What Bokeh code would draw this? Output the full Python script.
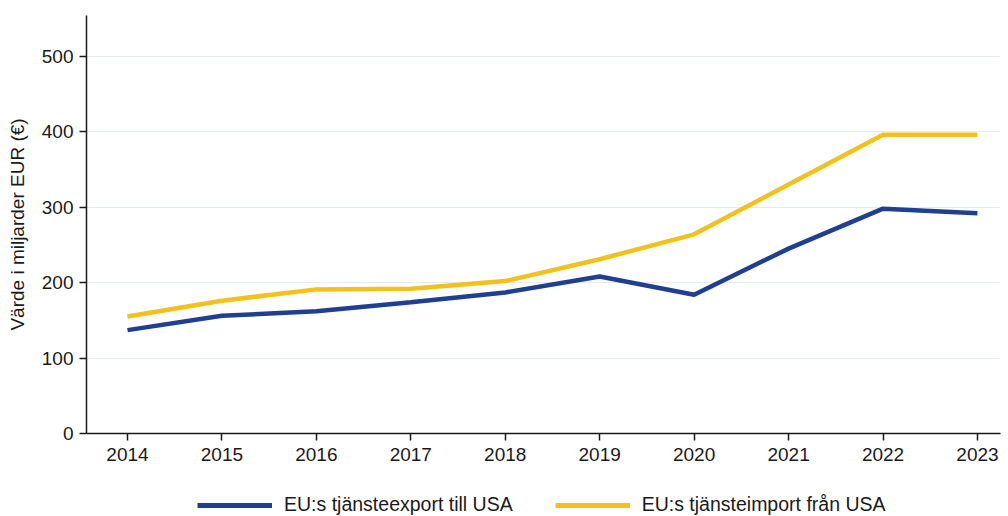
from bokeh.plotting import figure
from bokeh.models import Legend, LegendItem, Range1d, FixedTicker
from bokeh.layouts import column
from bokeh.embed import file_html
from bokeh.resources import INLINE

years = [2014, 2015, 2016, 2017, 2018, 2019, 2020, 2021, 2022, 2023]
export_usa = [137, 156, 162, 174, 187, 208, 184, 245, 298, 292]
import_usa = [155, 176, 191, 192, 202, 231, 264, 330, 396, 396]
y_ticks = [0, 100, 200, 300, 400, 500]
label_export = "EU:s tjänsteexport till USA"
label_import = "EU:s tjänsteimport från USA"
y_label = "Värde i miljarder EUR (€)"

FONT = "Liberation Sans"
BLUE = "#1f3f93"
YELLOW = "#f2c11c"
INK = "#1a1a1a"

# main chart
p = figure(width=1008, height=470, output_backend="svg", toolbar_location=None,
           x_range=Range1d(2013.566, 2023.244), y_range=Range1d(0, 554))
p.min_border_left = 86
p.min_border_right = 8
p.min_border_top = 15
p.min_border_bottom = 37
p.outline_line_color = None
p.background_fill_color = "white"
p.border_fill_color = "white"

p.line(years, export_usa, line_color=BLUE, line_width=4.5)
p.line(years, import_usa, line_color=YELLOW, line_width=4.5)

p.xgrid.visible = False
p.ygrid.ticker = FixedTicker(ticks=y_ticks[1:])
p.ygrid.grid_line_color = "#e4ecee"
p.ygrid.grid_line_width = 1.2

p.xaxis.ticker = FixedTicker(ticks=years)
p.yaxis.ticker = FixedTicker(ticks=y_ticks)
for ax in (p.xaxis[0], p.yaxis[0]):
    ax.axis_line_color = INK
    ax.axis_line_width = 1.5
    ax.major_tick_line_color = INK
    ax.major_tick_line_width = 1.5
    ax.major_tick_out = 7
    ax.major_tick_in = 0
    ax.minor_tick_line_color = None
    ax.major_label_text_font = FONT
    ax.major_label_text_font_size = "19px"
    ax.major_label_text_color = INK
p.xaxis.major_label_standoff = 7
p.yaxis.major_label_standoff = 6
p.yaxis.axis_label = y_label
p.yaxis.axis_label_text_font = FONT
p.yaxis.axis_label_text_font_size = "19px"
p.yaxis.axis_label_text_font_style = "normal"
p.yaxis.axis_label_text_color = INK
p.yaxis.axis_label_standoff = 11

# legend strip
p2 = figure(width=1008, height=46, output_backend="svg", toolbar_location=None,
            x_range=Range1d(0, 1), y_range=Range1d(0, 1),
            x_axis_type=None, y_axis_type=None)
p2.min_border = 0
p2.min_border_left = 0
p2.min_border_right = 0
p2.min_border_top = 0
p2.min_border_bottom = 0
p2.outline_line_color = None
p2.xgrid.visible = False
p2.ygrid.visible = False
p2.border_fill_color = "white"
p2.background_fill_color = "white"
r_exp = p2.line(years, export_usa, line_color=BLUE, line_width=5)
r_imp = p2.line(years, import_usa, line_color=YELLOW, line_width=5)

legend = Legend(items=[LegendItem(label=label_export, renderers=[r_exp]),
                       LegendItem(label=label_import, renderers=[r_imp])],
                orientation="horizontal", location=(111, 0))
legend.label_text_font = FONT
legend.label_text_font_size = "19.5px"
legend.label_text_color = INK
legend.glyph_width = 75
legend.glyph_height = 20
legend.label_standoff = 12
legend.spacing = 42
legend.border_line_color = None
legend.background_fill_alpha = 0
legend.padding = 0
legend.margin = 0
p2.add_layout(legend, "center")

open("out.html", "w").write(file_html(column(p, p2, spacing=0), INLINE))
